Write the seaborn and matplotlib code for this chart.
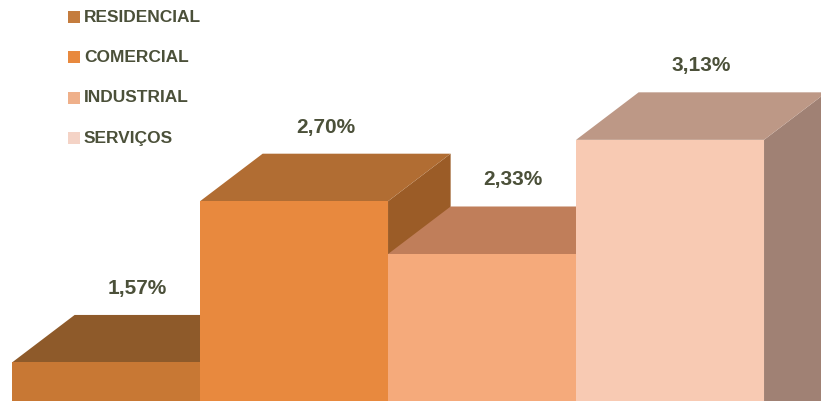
import matplotlib
matplotlib.use("Agg")
import matplotlib.pyplot as plt
from matplotlib.patches import Polygon, Rectangle
import seaborn as sns
import pandas as pd

categories = ["RESIDENCIAL", "COMERCIAL", "INDUSTRIAL", "SERVIÇOS"]
values = [1.57, 2.70, 2.33, 3.13]
labels = ["1,57%", "2,70%", "2,33%", "3,13%"]

front_colors = ["#C87834", "#E8893E", "#F5AA7B", "#F8CAB3"]
top_colors = ["#8E5A2A", "#B16D33", "#C07E5A", "#BD9886"]
side_colors = ["#7A4A22", "#9B5C27", "#A86A4C", "#A08174"]
legend_colors = ["#C47C3E", "#E8893E", "#EFB08A", "#F4D3C6"]
text_color = "#4B5039"

sns.set_theme(style="white")
plt.rcParams["font.family"] = ["Liberation Sans Narrow", "Liberation Sans", "DejaVu Sans"]

df = pd.DataFrame({"cat": categories, "val": values})

fig = plt.figure(figsize=(8.21, 4.01), dpi=100)
ax = fig.add_axes([0, 0, 1, 1])

sns.barplot(data=df, x="cat", y="val", hue="cat", palette=front_colors,
            width=1.0, legend=False, ax=ax, saturation=1, linewidth=0, zorder=5)

ax.set_xlim(-0.564, 3.803)
ax.set_ylim(1.30, 4.11)

dx = 0.333
dy = 0.333

patches = list(ax.patches)
for i, p in enumerate(patches):
    x0 = p.get_x()
    w = p.get_width()
    h = p.get_height()
    x1 = x0 + w
    z = 10 + i * 3
    side = Polygon([(x1, 0), (x1 + dx, dy), (x1 + dx, h + dy), (x1, h)],
                   closed=True, facecolor=side_colors[i], edgecolor="none", zorder=z)
    top = Polygon([(x0, h), (x1, h), (x1 + dx, h + dy), (x0 + dx, h + dy)],
                  closed=True, facecolor=top_colors[i], edgecolor="none", zorder=z + 1)
    ax.add_patch(side)
    ax.add_patch(top)
    p.set_zorder(z + 2)
    ax.text(x0 + w / 2 + dx / 2, h + dy + 0.12, labels[i], ha="center", va="bottom",
            fontsize=15, fontweight="bold", color=text_color, zorder=50)

ax.set_xticks([])
ax.set_yticks([])
ax.set_xlabel("")
ax.set_ylabel("")
for s in ax.spines.values():
    s.set_visible(False)

leg_y = [17, 57, 98, 138]
for i, cat in enumerate(categories):
    yfig = 1 - leg_y[i] / 401
    fig.patches.append(Rectangle((68 / 821, yfig - 6 / 401), 12 / 821, 12 / 401,
                                 transform=fig.transFigure, facecolor=legend_colors[i],
                                 edgecolor="none"))
    fig.text(84 / 821, yfig, cat, ha="left", va="center", fontsize=12.5,
             fontweight="bold", color=text_color)

fig.savefig("out.png", dpi=100)
